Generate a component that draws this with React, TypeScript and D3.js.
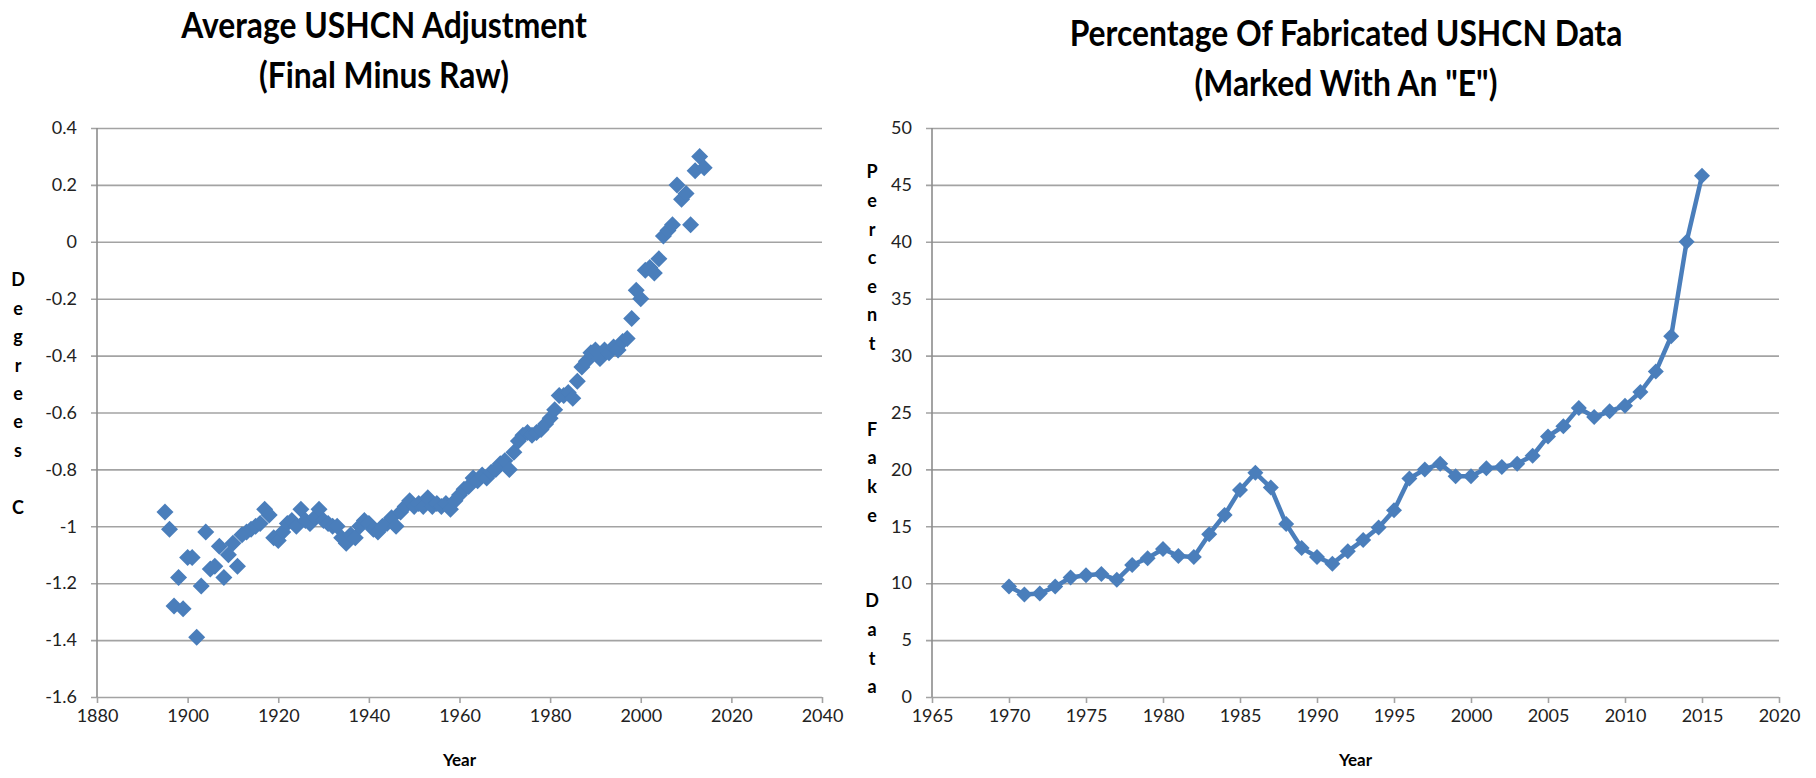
import { useEffect, useRef } from 'react';
import * as d3 from 'd3';

// Left chart: average USHCN adjustment, one value per year from 1895
const adjStartYear = 1895;
const adjValues = [
  -0.95, -1.01, -1.28, -1.18, -1.29, -1.11, -1.11, -1.39, -1.21, -1.02,
  -1.15, -1.14, -1.07, -1.18, -1.10, -1.06, -1.14, -1.03, -1.02, -1.01,
  -1.00, -0.99, -0.94, -0.96, -1.04, -1.05, -1.02, -0.99, -0.98, -1.00,
  -0.94, -0.98, -0.99, -0.97, -0.94, -0.98, -0.99, -1.00, -1.00, -1.04,
  -1.06, -1.03, -1.04, -1.00, -0.98, -0.99, -1.01, -1.02, -1.00, -0.99,
  -0.97, -1.00, -0.95, -0.93, -0.91, -0.93, -0.92, -0.93, -0.90, -0.93,
  -0.92, -0.93, -0.92, -0.94, -0.91, -0.89, -0.87, -0.86, -0.83, -0.84,
  -0.82, -0.83, -0.81, -0.80, -0.78, -0.77, -0.80, -0.74, -0.70, -0.68,
  -0.67, -0.68, -0.67, -0.66, -0.64, -0.62, -0.59, -0.54, -0.54, -0.53,
  -0.55, -0.49, -0.44, -0.42, -0.39, -0.38, -0.41, -0.38, -0.39, -0.37,
  -0.38, -0.35, -0.34, -0.27, -0.17, -0.20, -0.10, -0.09, -0.11, -0.06,
  0.02, 0.04, 0.06, 0.20, 0.15, 0.17, 0.06, 0.25, 0.30, 0.26,
];
const adjXTicks = [1880, 1900, 1920, 1940, 1960, 1980, 2000, 2020, 2040];
const adjYTicks = [0.4, 0.2, 0, -0.2, -0.4, -0.6, -0.8, -1, -1.2, -1.4, -1.6];

// Right chart: percentage of estimated ("E") values
const fakeYears = [
  1970, 1971, 1972, 1973, 1974, 1975, 1976, 1977, 1978, 1979,
  1980, 1981, 1982, 1983, 1984, 1985, 1986, 1987, 1988, 1989,
  1990, 1991, 1992, 1993, 1994, 1995, 1996, 1997, 1998, 1999,
  2000, 2001, 2002, 2003, 2004, 2005, 2006, 2007, 2008, 2009,
  2010, 2011, 2012, 2013, 2014, 2015,
];
const fakeValues = [
  9.7, 9.0, 9.1, 9.7, 10.5, 10.7, 10.8, 10.3, 11.6, 12.2,
  13.0, 12.4, 12.3, 14.3, 16.0, 18.2, 19.7, 18.4, 15.2, 13.1,
  12.3, 11.7, 12.8, 13.8, 14.9, 16.4, 19.2, 20.0, 20.5, 19.4,
  19.4, 20.1, 20.2, 20.5, 21.2, 22.9, 23.8, 25.4, 24.6, 25.1,
  25.6, 26.8, 28.6, 31.7, 40.0, 45.8,
];
const fakeXTicks = [1965, 1970, 1975, 1980, 1985, 1990, 1995, 2000, 2005, 2010, 2015, 2020];
const fakeYTicks = [0, 5, 10, 15, 20, 25, 30, 35, 40, 45, 50];

const leftTitle = ['Average USHCN Adjustment', '(Final Minus Raw)'];
const rightTitle = ['Percentage Of Fabricated USHCN Data', '(Marked With An "E")'];
const leftYLabel = ['D', 'e', 'g', 'r', 'e', 'e', 's', '', 'C'];
const rightYLabel = ['P', 'e', 'r', 'c', 'e', 'n', 't', '', '', 'F', 'a', 'k', 'e', '', '', 'D', 'a', 't', 'a'];

const W = 1816;
const H = 778;
const FONT = "Lato, 'Open Sans', sans-serif";
const BLUE = '#4a7ebb';
const GRID = '#a3a3a3';

const diamond = (r: number) => `M0,${-r}L${r},0L0,${r}L${-r},0Z`;

interface PanelOpts {
  x0: number;
  x1: number;
  xDomain: [number, number];
  yDomain: [number, number];
  xTicks: number[];
  yTicks: number[];
  title: string[];
  titleX: number;
  titleY: number;
  yLetters: string[];
  lettersX: number;
  lettersY: number;
  letterStep: number;
}

const App = () => {
  const ref = useRef<SVGSVGElement>(null);

  useEffect(() => {
    if (!ref.current) return;
    const svg = d3.select(ref.current);
    svg.selectAll('*').remove();

    const yTop = 128;
    const yBot = 697;

    const drawFrame = (o: PanelOpts) => {
      const x = d3.scaleLinear().domain(o.xDomain).range([o.x0, o.x1]);
      const y = d3.scaleLinear().domain(o.yDomain).range([yBot, yTop]);
      const g = svg.append('g');

      // gridlines + y tick labels
      const yAxis = g.append('g')
        .attr('transform', `translate(${o.x0 - 6},0)`)
        .call(d3.axisLeft(y).tickValues(o.yTicks).tickSize(-(o.x1 - o.x0 + 6)).tickPadding(14)
          .tickFormat(d => `${d}`));
      yAxis.select('.domain').remove();
      yAxis.selectAll('line').attr('stroke', GRID).attr('stroke-width', 1.6);
      yAxis.selectAll('text')
        .style('font-family', FONT).style('font-size', '18px').attr('fill', '#222');

      // x ticks + labels
      const xAxis = g.append('g')
        .attr('transform', `translate(0,${yBot})`)
        .call(d3.axisBottom(x).tickValues(o.xTicks).tickSize(6).tickPadding(6).tickFormat(d => `${d}`));
      xAxis.select('.domain').remove();
      xAxis.selectAll('line').attr('stroke', GRID).attr('stroke-width', 1.6);
      xAxis.selectAll('text')
        .style('font-family', FONT).style('font-size', '18px').attr('fill', '#222');

      // vertical axis line
      g.append('line')
        .attr('x1', o.x0).attr('x2', o.x0).attr('y1', yTop).attr('y2', yBot)
        .attr('stroke', '#8c8c8c').attr('stroke-width', 1.6);

      // title (Calibri-like: narrow bold)
      g.append('g')
        .attr('transform', `translate(${o.titleX},${o.titleY}) scale(0.86,1)`)
        .append('text')
        .attr('text-anchor', 'middle')
        .style('font-family', FONT).style('font-size', '37px').style('font-weight', 700)
        .selectAll('tspan').data(o.title).enter().append('tspan')
        .attr('x', 0).attr('dy', (_, i) => (i === 0 ? 0 : 50))
        .text(d => d);

      // stacked axis title
      g.append('g').selectAll('text').data(o.yLetters).enter().append('text')
        .attr('x', o.lettersX).attr('y', (_, i) => o.lettersY + i * o.letterStep)
        .attr('text-anchor', 'middle').attr('dy', '0.35em')
        .style('font-family', FONT).style('font-size', '18px').style('font-weight', 700)
        .text(d => d);

      g.append('text')
        .attr('x', (o.x0 + o.x1) / 2).attr('y', yBot + 69)
        .attr('text-anchor', 'middle')
        .style('font-family', FONT).style('font-size', '17px').style('font-weight', 700)
        .text('Year');

      return { x, y, g };
    };

    // left panel
    const left = drawFrame({
      x0: 97, x1: 822, xDomain: [1880, 2040], yDomain: [-1.6, 0.4],
      xTicks: adjXTicks, yTicks: adjYTicks, title: leftTitle, titleX: 384, titleY: 38,
      yLetters: leftYLabel, lettersX: 18, lettersY: 280, letterStep: 28.4,
    });
    left.g.append('g').selectAll('path').data(adjValues).enter().append('path')
      .attr('transform', (d, i) => `translate(${left.x(adjStartYear + i)},${left.y(d)})`)
      .attr('d', diamond(8.5))
      .attr('fill', BLUE);

    // right panel
    const right = drawFrame({
      x0: 932, x1: 1779, xDomain: [1965, 2020], yDomain: [0, 50],
      xTicks: fakeXTicks, yTicks: fakeYTicks, title: rightTitle, titleX: 1346, titleY: 46,
      yLetters: rightYLabel, lettersX: 872, lettersY: 172, letterStep: 28.6,
    });
    const pts = fakeYears.map((yr, i) => ({ yr, v: fakeValues[i] }));
    const line = d3.line<{ yr: number; v: number }>()
      .x(d => right.x(d.yr))
      .y(d => right.y(d.v));
    right.g.append('path')
      .datum(pts)
      .attr('fill', 'none')
      .attr('stroke', BLUE)
      .attr('stroke-width', 4.5)
      .attr('stroke-linejoin', 'round')
      .attr('d', line);
    right.g.append('g').selectAll('path').data(pts).enter().append('path')
      .attr('transform', d => `translate(${right.x(d.yr)},${right.y(d.v)})`)
      .attr('d', diamond(8))
      .attr('fill', BLUE);
  }, []);

  return (
    <svg
      ref={ref}
      width={W}
      height={H}
      style={{ position: 'absolute', left: 0, top: 0, background: '#fff' }}
    />
  );
};

export default App;
